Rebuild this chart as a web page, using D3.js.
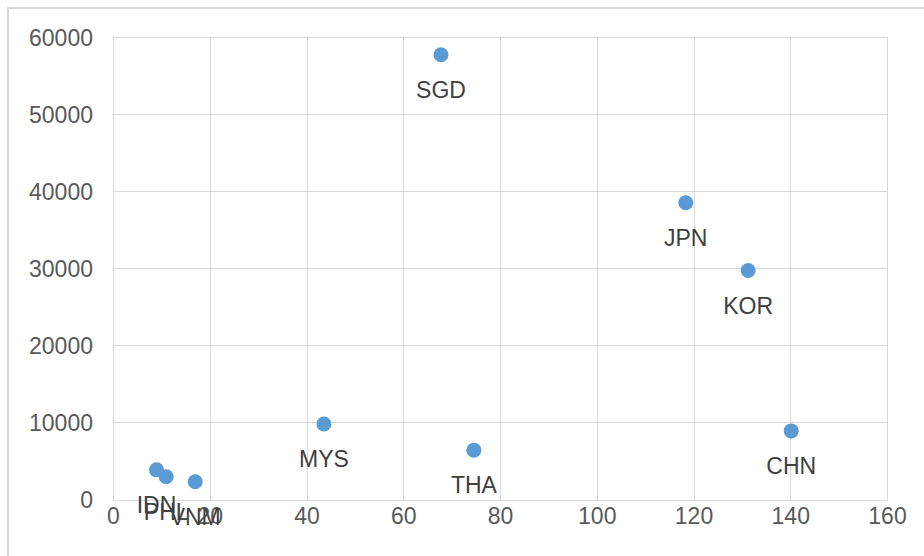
<!DOCTYPE html>
<html lang="en">
<head>
    <meta charset="UTF-8">
    <title>Scatter</title>
    <script src="https://d3js.org/d3.v7.min.js"></script>
    <style>
        body { margin: 0; background: #fff; }
        .axis text {
            font-family: "Liberation Sans", Arial, sans-serif;
            font-size: 23px;
            fill: #595959;
        }
        .axis path,
        .axis line {
            fill: none;
            stroke: #d9d9d9;
            shape-rendering: crispEdges;
        }
        .label {
            font-family: "Liberation Sans", Arial, sans-serif;
            font-size: 23px;
            fill: #404040;
        }
    </style>
</head>
<body>
<svg width="924" height="556"></svg>
<script>

    const countries = ["SGD", "JPN", "KOR", "CHN", "THA", "MYS", "IDN", "PHL", "VNM"];
    const xValues = [67.8, 118.4, 131.3, 140.2, 74.6, 43.6, 9.0, 11.0, 17.0];
    const yValues = [57700, 38500, 29700, 8900, 6400, 9800, 3850, 2950, 2300];
    const xTicks = [0, 20, 40, 60, 80, 100, 120, 140, 160];
    const yTicks = [0, 10000, 20000, 30000, 40000, 50000, 60000];

    const margin = {top: 37, right: 37, bottom: 56, left: 113};
    const width = 774;
    const height = 462.5;

    const svg = d3.select("svg");

    // chart frame
    svg.append("rect")
        .attr("x", 8)
        .attr("y", 8)
        .attr("width", 1000)
        .attr("height", 700)
        .attr("fill", "none")
        .attr("stroke", "#d9d9d9")
        .attr("stroke-width", 2);

    const g = svg.append("g")
        .attr("transform", `translate(${margin.left},${margin.top})`);

    const xScale = d3.scaleLinear()
        .domain([0, 160])
        .range([0, width]);

    const yScale = d3.scaleLinear()
        .domain([0, 60000])
        .range([height, 0]);

    // gridlines + axes
    g.append("g")
        .attr("class", "axis")
        .attr("transform", `translate(0,${height})`)
        .call(d3.axisBottom(xScale).tickValues(xTicks).tickFormat(d3.format("d")).tickSize(-height).tickPadding(20))
        .call(a => a.select(".domain").remove())
        .call(a => a.selectAll(".tick text").attr("dy", "0.2em"));

    g.append("g")
        .attr("class", "axis")
        .call(d3.axisLeft(yScale).tickValues(yTicks).tickFormat(d3.format("d")).tickSize(-width).tickPadding(20))
        .call(a => a.select(".domain").remove())
        .call(a => a.selectAll(".tick text").attr("dy", "0.35em"));

    g.append("line")
        .attr("x1", width).attr("x2", width)
        .attr("y1", 0).attr("y2", height)
        .attr("stroke", "#d9d9d9")
        .attr("shape-rendering", "crispEdges");

    // points
    g.selectAll("circle")
        .data(countries)
        .enter()
        .append("circle")
        .attr("cx", (d, i) => xScale(xValues[i]))
        .attr("cy", (d, i) => yScale(yValues[i]))
        .attr("r", 7.5)
        .attr("fill", "#5b9bd5");

    // data labels under each point
    g.selectAll(".label")
        .data(countries)
        .enter()
        .append("text")
        .attr("class", "label")
        .attr("x", (d, i) => xScale(xValues[i]))
        .attr("y", (d, i) => yScale(yValues[i]) + 43)
        .attr("text-anchor", "middle")
        .text(d => d);

</script>
</body>
</html>
